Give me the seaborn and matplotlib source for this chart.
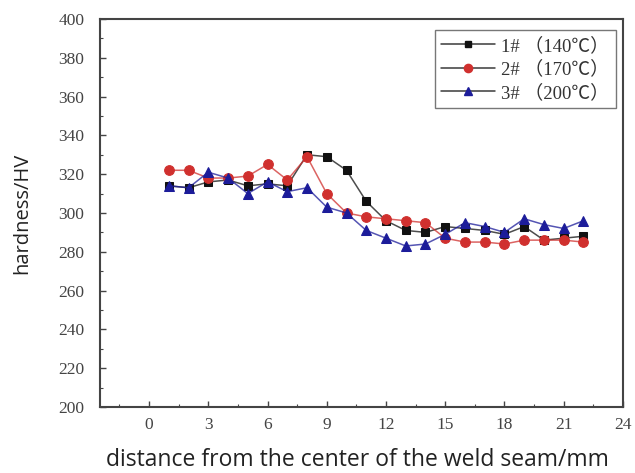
import numpy as np
import pandas as pd
import seaborn as sns
import matplotlib
matplotlib.use("Agg")
import matplotlib.pyplot as plt
from matplotlib.ticker import MultipleLocator
from matplotlib.font_manager import FontProperties
from matplotlib.lines import Line2D

distance = list(range(1, 23))
hv_140 = [314, 313, 316, 317, 314, 315, 314, 330, 329, 322, 306, 296, 291, 290, 293, 292, 291, 289, 293, 286, 287, 288]
hv_170 = [322, 322, 318, 318, 319, 325, 317, 329, 310, 300, 298, 297, 296, 295, 287, 285, 285, 284, 286, 286, 286, 285]
hv_200 = [314, 313, 321, 318, 310, 316, 311, 313, 303, 300, 291, 287, 283, 284, 289, 295, 293, 290, 297, 294, 292, 296]
series_labels = ["1# （140℃）", "2# （170℃）", "3# （200℃）"]
colors = ["#111111", "#d0302e", "#1c1c9a"]
markers = ["s", "o", "^"]
x_ticks = [0, 3, 6, 9, 12, 15, 18, 21, 24]
y_ticks = [200, 220, 240, 260, 280, 300, 320, 340, 360, 380, 400]

df = pd.DataFrame({
    "distance": distance * 3,
    "hardness": hv_140 + hv_170 + hv_200,
    "sample": [series_labels[0]] * 22 + [series_labels[1]] * 22 + [series_labels[2]] * 22,
})

sns.set_style("white")
fig = plt.figure(figsize=(6.35, 4.73), dpi=100)
ax = fig.add_axes([0.157, 0.1395, 0.824, 0.8205])

sizes = {"s": 5.5, "o": 7, "^": 6.5}
for lab, c, m in zip(series_labels, colors, markers):
    sub = df[df["sample"] == lab]
    sns.lineplot(data=sub, x="distance", y="hardness", ax=ax,
                 color=matplotlib.colors.to_rgba(c, 0.75),
                 marker=m, markersize=sizes[m], markeredgecolor=c, markerfacecolor=c,
                 linewidth=1.1, legend=False)

ax.set_xlim(-2.5, 24)
ax.set_ylim(200, 400)
ax.set_xticks(x_ticks)
ax.set_yticks(y_ticks)
ax.xaxis.set_minor_locator(MultipleLocator(1.5))
ax.yaxis.set_minor_locator(MultipleLocator(10))
ax.tick_params(which="both", direction="in", color="#444444", bottom=True, left=True)
ax.tick_params(which="major", length=4, width=1)
ax.tick_params(which="minor", length=2, width=0.8)
for lbl in ax.get_xticklabels() + ax.get_yticklabels():
    lbl.set_fontfamily("Liberation Serif")
    lbl.set_fontsize(12.5)
    lbl.set_color("#444444")
ax.tick_params(axis="x", pad=7)
ax.tick_params(axis="y", pad=11)
for sp in ax.spines.values():
    sp.set_color("#444444")
    sp.set_linewidth(1.5)

ax.set_xlabel("distance from the center of the weld seam/mm", fontfamily="Open Sans",
              fontsize=16.5, color="#222222", va="top")
ax.xaxis.set_label_coords(0.492, -0.105)
ax.set_ylabel("hardness/HV", fontfamily="Open Sans", fontsize=14.5, color="#222222")
ax.yaxis.set_label_coords(-0.128, 0.5)

handles = [Line2D([], [], color="#3a3a3a", linewidth=1.1, marker=m, markersize=sizes[m] * 0.85,
                  markerfacecolor=c, markeredgecolor=c)
           for c, m in zip(colors, markers)]
leg = ax.legend(handles, series_labels, loc="upper right", bbox_to_anchor=(0.993, 0.98),
                prop=FontProperties(family=["Liberation Serif", "Noto Sans CJK SC"], size=13.5),
                frameon=True, fancybox=False, edgecolor="#555555", handlelength=2.9,
                labelspacing=0.3, borderpad=0.35, handletextpad=0.3, borderaxespad=0.2)
leg.get_frame().set_linewidth(1.0)
for t in leg.get_texts():
    t.set_color("#333333")

fig.savefig("out.png", dpi=100)
